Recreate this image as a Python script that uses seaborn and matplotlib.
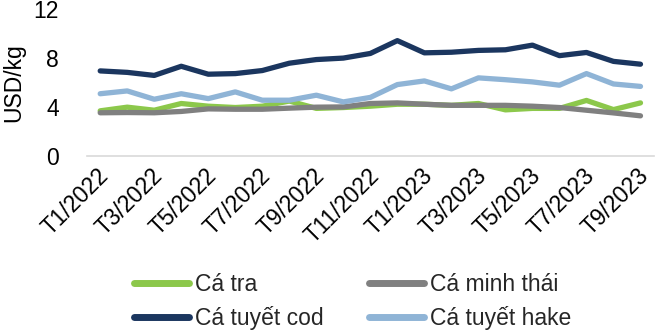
import numpy as np
import pandas as pd
import matplotlib
matplotlib.use("Agg")
import matplotlib.pyplot as plt
import matplotlib.transforms as mtransforms
import seaborn as sns

months = ["T1/2022", "T2/2022", "T3/2022", "T4/2022", "T5/2022", "T6/2022",
          "T7/2022", "T8/2022", "T9/2022", "T10/2022", "T11/2022", "T12/2022",
          "T1/2023", "T2/2023", "T3/2023", "T4/2023", "T5/2023", "T6/2023",
          "T7/2023", "T8/2023", "T9/2023"]

ca_tra = [3.70, 4.00, 3.75, 4.30, 4.08, 3.97, 4.08, 4.50, 3.90, 3.97, 4.08,
          4.24, 4.24, 4.15, 4.30, 3.78, 3.90, 3.90, 4.55, 3.80, 4.35]
ca_minh_thai = [3.54, 3.56, 3.54, 3.65, 3.86, 3.83, 3.83, 3.92, 4.00, 4.02,
                4.30, 4.35, 4.24, 4.15, 4.15, 4.15, 4.08, 3.97, 3.75, 3.53, 3.29]
ca_tuyet_cod = [6.97, 6.85, 6.60, 7.35, 6.70, 6.75, 7.00, 7.60, 7.90, 8.02,
                8.40, 9.45, 8.45, 8.50, 8.65, 8.70, 9.08, 8.22, 8.48, 7.75, 7.52]
ca_tuyet_hake = [5.10, 5.33, 4.65, 5.10, 4.70, 5.25, 4.57, 4.57, 4.98, 4.43,
                 4.80, 5.85, 6.15, 5.50, 6.40, 6.25, 6.07, 5.80, 6.75, 5.90, 5.70]

series_names = ["Cá tra", "Cá minh thái", "Cá tuyết cod", "Cá tuyết hake"]
series_values = [ca_tra, ca_minh_thai, ca_tuyet_cod, ca_tuyet_hake]
colors = ["#8cc84b", "#808080", "#1b365f", "#8fb4d6"]

yticks = [0, 4, 8, 12]
ylabel = "USD/kg"

rows = []
for name, vals in zip(series_names, series_values):
    for i, v in enumerate(vals):
        rows.append({"pos": i, "month": months[i], "series": name, "value": v})
df = pd.DataFrame(rows)

sns.set_theme(style="white")
plt.rcParams["font.family"] = ["Liberation Sans", "DejaVu Sans"]
FS = 16.5

fig = plt.figure(figsize=(6.61, 3.36), dpi=100)
ax = fig.add_axes([86.7 / 661, 1 - 156 / 336, (654 - 86.7) / 661, (156 - 9.5) / 336])

sns.lineplot(data=df, x="pos", y="value", hue="series", hue_order=series_names,
             palette=dict(zip(series_names, colors)), linewidth=3.8,
             ax=ax, legend=False, sort=True,
             solid_capstyle="round", solid_joinstyle="round")

ax.set_xlim(-0.5, len(months) - 0.5)
ax.set_ylim(0, 12)
ax.set_yticks(yticks)
ax.set_yticklabels([str(t) for t in yticks], fontsize=FS, color="black")
ax.tick_params(axis="y", length=0, pad=20)

label_pos = list(range(0, len(months), 2))
ax.set_xticks(label_pos)
ax.set_xticklabels([months[i] for i in label_pos], fontsize=FS, color="black",
                   rotation=45, ha="right", va="center", rotation_mode="anchor")
ax.tick_params(axis="x", length=0, pad=12)
offset = mtransforms.ScaledTranslation(5 / 100, 0, fig.dpi_scale_trans)
for lbl in ax.get_xticklabels():
    lbl.set_transform(lbl.get_transform() + offset)

# boundary tick marks (between categories, every 2)
ax.set_xticks(np.arange(-0.5, len(months), 2), minor=True)
ax.tick_params(axis="x", which="minor", length=6, width=1.2, color="#d9d9d9",
               direction="out")

for s in ["top", "right", "left"]:
    ax.spines[s].set_visible(False)
ax.spines["bottom"].set_color("#d9d9d9")
ax.spines["bottom"].set_linewidth(1.2)
ax.grid(False)

ax.set_xlabel("")
ax.set_ylabel(ylabel, fontsize=FS, color="black")
ax.yaxis.set_label_coords((25 - 86.7) / 567.3, 0.5)

handles = [plt.Line2D([], [], color=c, linewidth=5, solid_capstyle="round")
           for c in colors]
order = [0, 2, 1, 3]
fig.legend([handles[i] for i in order], [series_names[i] for i in order],
           ncol=2, loc="center left", bbox_to_anchor=(134 / 661, 1 - 301.5 / 336),
           bbox_transform=fig.transFigure, frameon=False, fontsize=FS,
           handlelength=2.4, handletextpad=0.25, columnspacing=2.0,
           labelspacing=0.45, borderpad=0, borderaxespad=0)

fig.savefig("out.png", dpi=100)
